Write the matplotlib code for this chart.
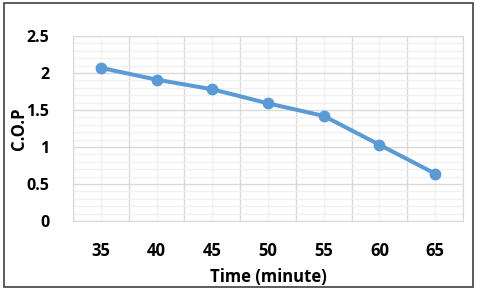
import numpy as np
import matplotlib.pyplot as plt
from matplotlib.patches import Rectangle
from matplotlib.ticker import MultipleLocator

times = ['35', '40', '45', '50', '55', '60', '65']
cop = [2.07, 1.91, 1.78, 1.59, 1.42, 1.03, 0.64]

plt.rcParams['font.family'] = ['Open Sans', 'DejaVu Sans']

fig = plt.figure(figsize=(4.8, 2.9), dpi=100)
ax = fig.add_axes([73/480, 1 - 221/290, 390/480, 185/290])

x = np.arange(len(times))
ax.plot(x, cop, color='#5B9BD5', lw=2.9, marker='o', ms=7.5, zorder=3)

ax.set_xlim(-0.5, len(times) - 0.5)
ax.set_ylim(0, 2.5)
ax.set_xticks(x)
ax.set_xticklabels(times)
ax.set_xticks(np.arange(-0.5, len(times), 1), minor=True)
ax.yaxis.set_major_locator(MultipleLocator(0.5))
ax.yaxis.set_minor_locator(MultipleLocator(0.1))
ax.set_yticks([0, 0.5, 1, 1.5, 2, 2.5])
ax.set_yticklabels(['0', '0.5', '1', '1.5', '2', '2.5'])

# vertical: strong lines at category edges, light at centres
ax.xaxis.grid(True, which='minor', color='#D9D9D9', lw=1)
ax.xaxis.grid(True, which='major', color='#F0F0F0', lw=1)
ax.yaxis.grid(True, which='major', color='#D9D9D9', lw=1)
ax.yaxis.grid(True, which='minor', color='#F0F0F0', lw=1)
ax.set_axisbelow(True)

ax.tick_params(which='both', length=0)
ax.tick_params(axis='x', pad=15, labelsize=12)
ax.tick_params(axis='y', pad=17, labelsize=11.5)
for lbl in ax.get_xticklabels() + ax.get_yticklabels():
    lbl.set_fontweight('bold')
for s in ax.spines.values():
    s.set_color('#D9D9D9')

ax.set_xlabel('Time (minute)', fontsize=12, fontweight='bold')
ax.set_ylabel('C.O.P', fontsize=12, fontweight='bold')
ax.xaxis.set_label_coords(0.5, -0.255)
ax.yaxis.set_label_coords(-0.115, 0.5)

fig.patches.append(Rectangle((4/480, 1 - 287/290), 469/480, 284/290,
                             transform=fig.transFigure, fill=False,
                             edgecolor='#404040', lw=1.2))

fig.savefig('out.png', dpi=100)
